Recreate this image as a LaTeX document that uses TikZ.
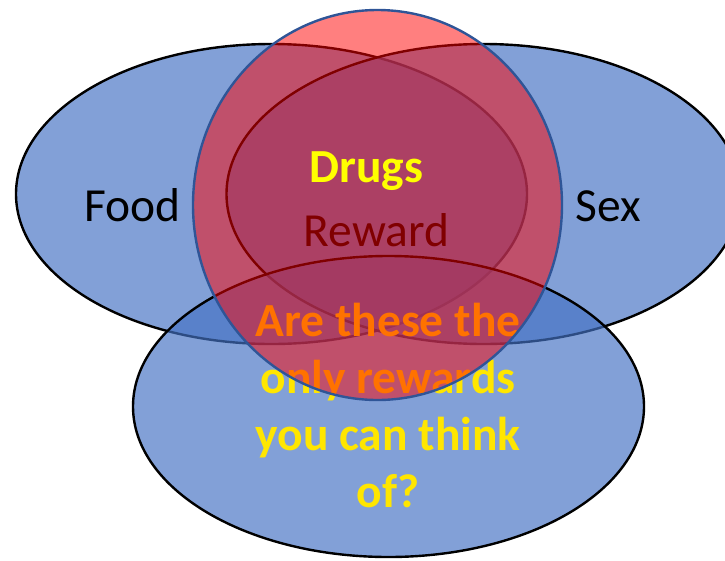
\documentclass[tikz,border=0pt]{standalone}
\usepackage{fontspec}
\setmainfont{Carlito}
\definecolor{setblue}{HTML}{4472C4}
\definecolor{ringblue}{HTML}{2F5597}
\definecolor{qyellow}{RGB}{255,230,0}
\definecolor{dyellow}{RGB}{255,255,0}
\begin{document}
\begin{tikzpicture}[x=1pt,y=-1pt,
  setell/.style={fill=setblue, fill opacity=0.67, draw=black, line width=2.4pt},
  drugring/.style={fill=red, fill opacity=0.5, draw=ringblue, line width=2.4pt},
  lbl/.style={anchor=base, inner sep=0pt, font=\fontsize{47.5}{57}\selectfont},
  blbl/.style={anchor=base, inner sep=0pt, font=\fontsize{47.5}{57}\selectfont\bfseries},
]
\useasboundingbox (0,0) rectangle (725,560);
% three sets
\draw[setell] (271.5,194) ellipse [x radius=255.5, y radius=150];
\draw[setell] (483.5,194) ellipse [x radius=257, y radius=150];
\draw[setell] (388.5,406.5) ellipse [x radius=255.5, y radius=150.5];
% labels under the ring
\node[lbl, text=black] (food) at (132.5,221) {Food};
\node[lbl, text=black] (sex) at (608.5,221) {Sex};
\node[lbl, text=black] (reward) at (376.5,246) {Reward};
\node[blbl, text=qyellow] (q1) at (388,336) {Are these the};
\node[blbl, text=qyellow] (q2) at (388,393) {only rewards};
\node[blbl, text=qyellow] (q3) at (388,450) {you can think};
\node[blbl, text=qyellow] (q4) at (388,507) {of?};
% drugs ring
\draw[drugring] (377.5,205) ellipse [x radius=184.5, y radius=195];
\node[blbl, text=dyellow] (drugs) at (366.5,182) {Drugs};
\end{tikzpicture}
\end{document}
